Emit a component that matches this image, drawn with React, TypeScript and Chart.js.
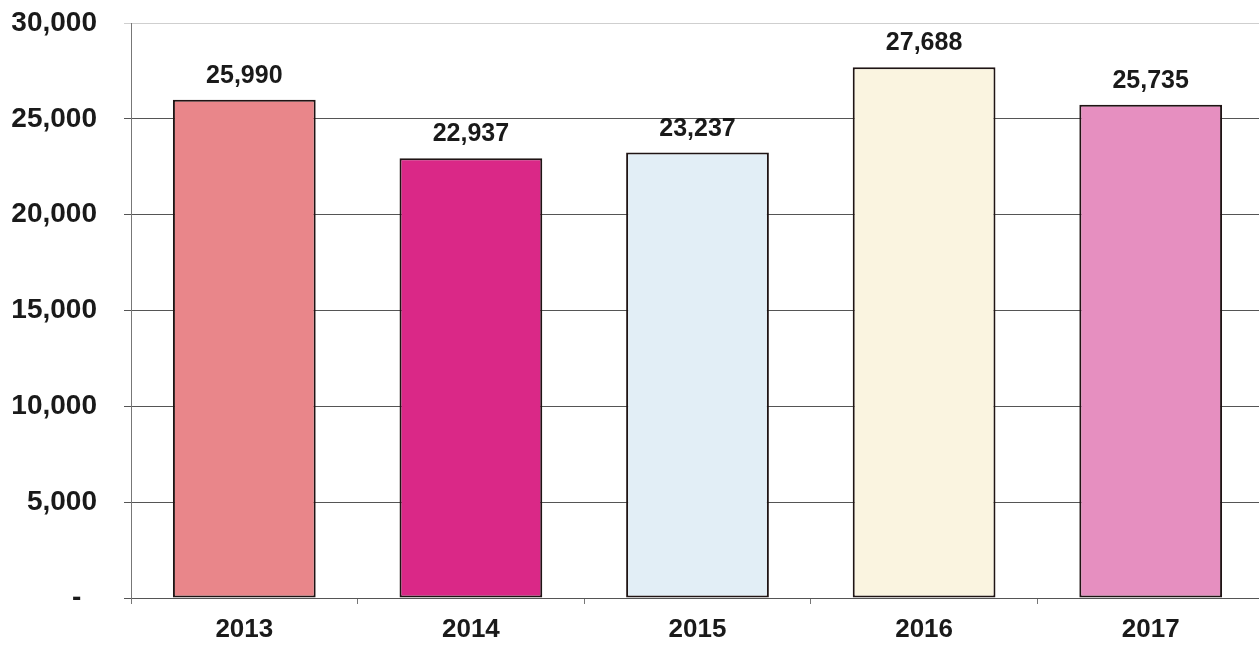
import React, { useEffect, useRef } from "react";
import { Chart, registerables } from "chart.js";

Chart.register(...registerables);

const categories = ["2013", "2014", "2015", "2016", "2017"];
const values = [25990, 22937, 23237, 27688, 25735];
const barColors = ["#e9868a", "#da2887", "#e2eef6", "#faf4e0", "#e68fc0"];
const yTicks = [0, 5000, 10000, 15000, 20000, 25000, 30000];

const fmt = (v: number) => v.toLocaleString("en-US");

const valueLabels = {
  id: "valueLabels",
  afterDatasetsDraw(chart: any) {
    const ctx = chart.ctx;
    const meta = chart.getDatasetMeta(0);
    ctx.save();
    ctx.font = "bold 25px 'Liberation Sans', Arial, sans-serif";
    ctx.fillStyle = "#1a1a1a";
    ctx.textAlign = "center";
    ctx.textBaseline = "alphabetic";
    meta.data.forEach((bar: any, i: number) => {
      ctx.fillText(fmt(values[i]), bar.x, bar.y - 17);
    });
    ctx.restore();
  },
};

export default function App() {
  const ref = useRef<HTMLCanvasElement>(null);
  useEffect(() => {
    document.body.style.margin = "0";
    document.body.style.overflow = "hidden";
    const chart = new Chart(ref.current!, {
      type: "bar",
      data: {
        labels: categories,
        datasets: [
          {
            data: values,
            backgroundColor: barColors,
            borderColor: "#1f1414",
            borderWidth: 2,
            borderSkipped: false,
            barPercentage: 0.63,
            categoryPercentage: 1,
          },
        ],
      },
      options: {
        animation: false,
        responsive: false,
        layout: { padding: { top: 23, right: 0, left: 0, bottom: 0 } },
        plugins: { legend: { display: false }, tooltip: { enabled: false } },
        scales: {
          x: {
            grid: {
              drawOnChartArea: false,
              drawTicks: true,
              tickLength: 6,
              color: "#777",
            },
            border: { color: "#555", width: 1 },
            ticks: {
              color: "#1a1a1a",
              padding: 10,
              font: { family: "'Liberation Sans', Arial, sans-serif", size: 26, weight: "bold" },
            },
            afterFit(scale: any) {
              scale.height = 50;
              scale.paddingLeft = 0;
              scale.paddingRight = 0;
            },
          },
          y: {
            min: 0,
            max: 30000,
            afterBuildTicks(scale: any) {
              scale.ticks = yTicks.map((v) => ({ value: v }));
            },
            grid: {
              color: (c: any) => (c.tick && c.tick.value === 30000 ? "#cfcfcf" : "#555"),
              lineWidth: 1,
              tickLength: 7,
            },
            border: { color: "#777", width: 1 },
            ticks: {
              color: "#1a1a1a",
              padding: 27,
              font: { family: "'Liberation Sans', Arial, sans-serif", size: 28, weight: "bold" },
              callback: (v: any) => (Number(v) === 0 ? "-  " : fmt(Number(v))),
            },
            afterFit(scale: any) {
              scale.width = 131;
              scale.paddingTop = 0;
              scale.paddingBottom = 0;
            },
          },
        },
      },
      plugins: [valueLabels],
    });
    return () => chart.destroy();
  }, []);
  return <canvas ref={ref} width={1264} height={648} style={{ display: "block" }} />;
}
